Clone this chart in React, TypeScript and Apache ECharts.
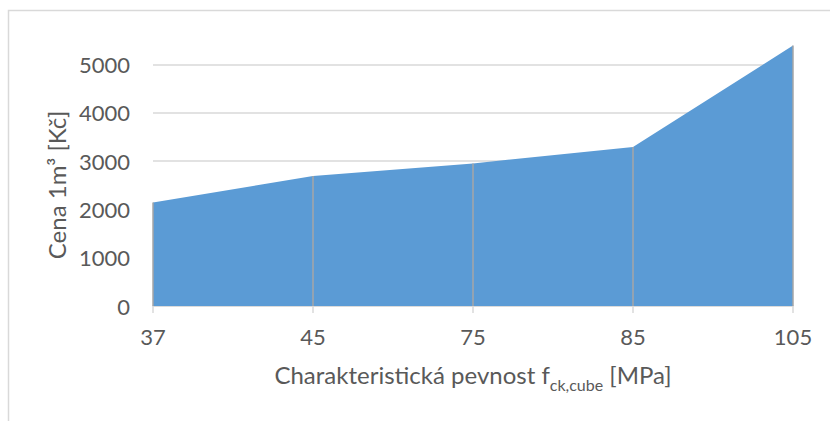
import React, { useEffect, useRef } from "react";
import * as echarts from "echarts";

const categories = ["37", "45", "75", "85", "105"];
const prices = [2140, 2690, 2950, 3290, 5390];
const yTicks = { min: 0, max: 6000, interval: 1000 };

const TEXT = "#595959";
const FONT = "Lato";

export default function App() {
  const ref = useRef<HTMLDivElement>(null);
  useEffect(() => {
    if (!ref.current) return;
    const chart = echarts.init(ref.current, undefined, { renderer: "svg" });
    const dropLines = prices.map((v, i) => [
      { coord: [i, 0] },
      { coord: [i, v] },
    ]);
    chart.setOption({
      animation: false,
      backgroundColor: "#ffffff",
      textStyle: { fontFamily: FONT },
      graphic: [
        {
          type: "rect",
          shape: { x: 8.5, y: 10.5, width: 1000, height: 1000 },
          style: { fill: "none", stroke: "#d9d9d9", lineWidth: 1.5 },
          silent: true,
          z: -10,
        },
      ],
      grid: { left: 153, right: 37, top: 16, bottom: 115 },
      xAxis: {
        type: "category",
        data: categories,
        boundaryGap: false,
        axisLine: { lineStyle: { color: "#d9d9d9", width: 1.5 } },
        axisTick: { show: true, length: 7, lineStyle: { color: "#d9d9d9", width: 1.5 } },
        axisLabel: { color: TEXT, fontSize: 22, margin: 19, fontFamily: FONT },
        splitLine: { show: false },
        name: "Charakteristická pevnost f{sub|ck,cube} [MPa]",
        nameLocation: "middle",
        nameGap: 50,
        nameTextStyle: {
          color: TEXT,
          fontSize: 24,
          fontFamily: FONT,
          lineHeight: 36,
          rich: {
            sub: { fontSize: 16, lineHeight: 16, verticalAlign: "bottom", color: TEXT, fontFamily: FONT },
          },
        },
      },
      yAxis: {
        type: "value",
        min: yTicks.min,
        max: yTicks.max,
        interval: yTicks.interval,
        axisLine: { show: false },
        axisTick: { show: false },
        axisLabel: {
          color: TEXT,
          fontSize: 22,
          margin: 23,
          fontFamily: FONT,
          showMaxLabel: false,
          formatter: (v: number) => (v >= yTicks.max ? "" : String(v)),
        },
        splitLine: { show: true, showMaxLine: false, lineStyle: { color: "#d9d9d9", width: 1.5 } },
        name: "Cena 1m³ [Kč]",
        nameLocation: "middle",
        nameGap: 74,
        nameTextStyle: { color: TEXT, fontSize: 24, fontFamily: FONT, padding: [0, 48, 0, 0] },
      },
      series: [
        {
          type: "line",
          data: prices,
          symbol: "none",
          lineStyle: { width: 0 },
          areaStyle: { color: "#5b9bd5", opacity: 1 },
          itemStyle: { color: "#5b9bd5" },
          markLine: {
            silent: true,
            symbol: ["none", "none"],
            label: { show: false },
            lineStyle: { color: "#a6a6a6", type: "solid", width: 1.5 },
            data: dropLines,
          },
        },
      ],
    });
    return () => chart.dispose();
  }, []);
  return (
    <div
      ref={ref}
      style={{ position: "absolute", left: 0, top: 0, width: 830, height: 421 }}
    />
  );
}
